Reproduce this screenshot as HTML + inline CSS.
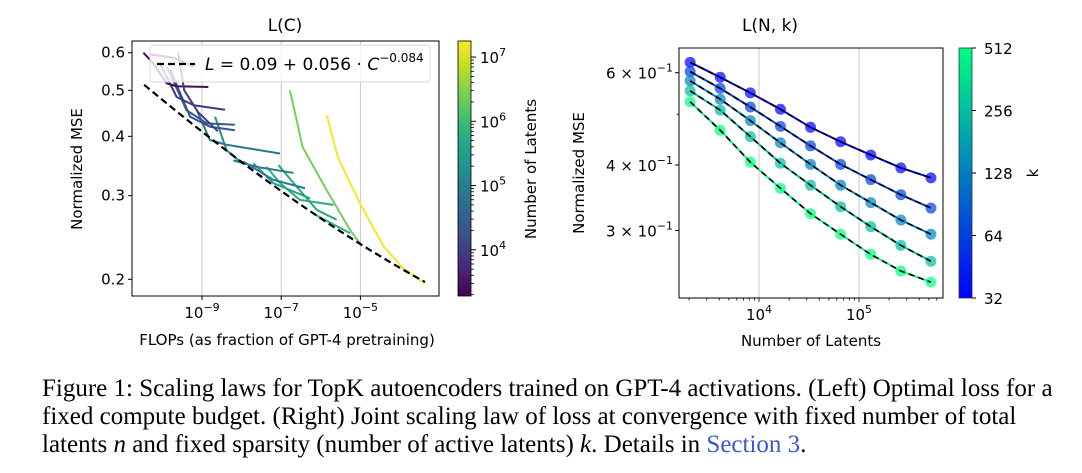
<!DOCTYPE html>
<html><head><meta charset="utf-8">
<style>
body{margin:0;background:#fff;width:1082px;height:473px;overflow:hidden}
svg text{font-family:"DejaVu Sans","Liberation Sans",sans-serif;fill:#000}
.cap{position:absolute;left:42px;top:375px;width:1045px;font-family:"Liberation Serif",serif;font-size:25px;line-height:28px;color:#000;white-space:nowrap}
</style></head><body>
<svg id="fig" width="1082" height="473" style="position:absolute;left:0;top:0"></svg>
<div class="cap">Figure 1: Scaling laws for TopK autoencoders trained on GPT-4 activations. (Left) Optimal loss for a<br>fixed compute budget. (Right) Joint scaling law of loss at convergence with fixed number of total<br>latents <i>n</i> and fixed sparsity (number of active latents) <i>k</i>. Details in <span style="color:#3a56d4">Section 3</span>.</div>
<script>
// ---- Left chart data: curves of [log10 C, loss], color by log10(latents)
const leftCurveLatents=[7.2,6.4,5.75,5.65,5.6,5.8,5.3,4.9,4.95,4.85,4.4,4.3,3.9,3.4,3.6,4.0];
const leftCurves=[
 [[-5.85,0.443],[-5.56,0.360],[-5.01,0.289],[-4.42,0.235],[-3.92,0.211],[-3.37,0.196]],
 [[-6.78,0.500],[-6.46,0.380],[-5.85,0.308],[-5.26,0.254],[-5.01,0.238]],
 [[-7.37,0.345],[-7.03,0.319],[-6.53,0.294],[-5.68,0.287]],
 [[-7.07,0.348],[-6.73,0.322],[-6.10,0.280],[-5.60,0.267]],
 [[-7.70,0.351],[-7.20,0.319],[-6.27,0.296]],
 [[-6.19,0.275],[-5.26,0.250]],
 [[-8.67,0.440],[-8.38,0.374],[-8.04,0.354]],
 [[-9.13,0.454],[-8.80,0.393],[-8.38,0.384],[-7.03,0.368]],
 [[-8.21,0.356],[-7.62,0.345],[-6.69,0.335]],
 [[-7.96,0.354],[-7.20,0.324],[-6.40,0.311]],
 [[-9.89,0.561],[-9.39,0.454],[-8.88,0.426],[-8.17,0.423]],
 [[-9.80,0.552],[-9.30,0.440],[-8.80,0.419],[-8.17,0.412]],
 [[-10.06,0.570],[-9.64,0.484],[-9.21,0.465],[-8.42,0.455]],
 [[-10.48,0.600],[-10.23,0.570],[-9.89,0.517],[-9.64,0.510],[-8.84,0.508]],
 [[-10.3,0.595],[-9.7,0.585],[-9.2,0.56]],
 [[-9.6,0.60],[-9.45,0.50],[-9.1,0.45],[-8.6,0.41]]
];
const leftFit=[0.09,0.056,0.084];
const leftFitRange=[-10.46,-3.37];
const leftYTicks=[0.6,0.5,0.4,0.3,0.2];
const leftXTicks=[-9,-7,-5];
const leftCbTicks=[7,6,5,4];
// ---- Right chart data
const rightN=[2048,4096,8192,16384,32768,65536,131072,262144,524288];
const rightK=[32,64,128,256,512];
const rightLoss=[
 [0.628,0.588,0.549,0.511,0.472,0.443,0.418,0.395,0.378],
 [0.603,0.560,0.516,0.474,0.435,0.401,0.375,0.351,0.331],
 [0.579,0.534,0.486,0.441,0.401,0.366,0.339,0.314,0.295],
 [0.554,0.509,0.453,0.403,0.366,0.333,0.305,0.281,0.262],
 [0.528,0.466,0.405,0.361,0.323,0.295,0.270,0.251,0.239]
];
const rightYTicks=[6,4,3];
const rightXTicks=[4,5];
const rightCbTicks=[512,256,128,64,32];

const NS="http://www.w3.org/2000/svg";
const svg=document.getElementById('fig');
function el(tag,attrs,parent){const e=document.createElementNS(NS,tag);for(const k in attrs)e.setAttribute(k,attrs[k]);(parent||svg).appendChild(e);return e;}
function txt(s,x,y,size,anchor,parent){const t=el('text',{x:x,y:y,'font-size':size,'text-anchor':anchor||'middle'},parent);t.textContent=s;return t;}
const VIR=[[68,1,84],[72,40,120],[62,74,137],[49,104,142],[38,130,142],[31,158,137],[53,183,121],[110,206,88],[181,222,43],[253,231,37]];
function viridis(t){t=Math.max(0,Math.min(1,t))*9;const i=Math.min(8,Math.floor(t)),f=t-i;const a=VIR[i],b=VIR[i+1];return 'rgb('+a.map((v,j)=>Math.round(v+(b[j]-v)*f)).join(',')+')';}
function winter(t){return 'rgb(0,'+Math.round(255*t)+','+Math.round(255*(1-0.5*t))+')';}

// ===== LEFT =====
const L={x0:132,x1:439,y0:41,y1:296};
const lx=v=>202+(v+9)*39.6;
const ly=v=>52.7+475*Math.log10(0.6/v);
const gL=el('g',{});
el('clipPath',{id:'cl'},gL);
el('rect',{x:L.x0,y:L.y0,width:L.x1-L.x0,height:L.y1-L.y0},gL.lastChild);
leftXTicks.forEach(v=>{
 const g=el('line',{x1:lx(v),x2:lx(v),y1:L.y0,y2:L.y1,stroke:'#c8c8c8','stroke-width':1},gL);
 
 
});
const pl=el('g',{'clip-path':'url(#cl)'},gL);
leftCurves.forEach((c,i)=>{
 const p=el('polyline',{points:c.map(q=>lx(q[0])+','+ly(q[1])).join(' '),fill:'none',stroke:viridis((leftCurveLatents[i]-3.28)/3.97),'stroke-width':2,'stroke-linejoin':'round'},pl);
 
 
});
let fp=[];for(let s=0;s<=60;s++){const c=leftFitRange[0]+(leftFitRange[1]-leftFitRange[0])*s/60;fp.push(lx(c)+','+ly(leftFit[0]+leftFit[1]*Math.pow(10,-leftFit[2]*c)));}
const fl=el('polyline',{points:fp.join(' '),fill:'none',stroke:'#000','stroke-width':2.2,'stroke-dasharray':'7,4'},pl);


// legend
const lg=el('g',{},gL);


el('rect',{x:150,y:45,width:280,height:37,rx:3,fill:'rgba(255,255,255,0.8)',stroke:'#d8d8d8'},lg);
el('line',{x1:157,x2:195,y1:64,y2:64,stroke:'#000','stroke-width':2.2,'stroke-dasharray':'7,4'},lg);
const lt=el('text',{x:205,y:70,'font-size':17},lg);
lt.innerHTML='<tspan font-style="italic">L</tspan> = 0.09 + 0.056 · <tspan font-style="italic">C</tspan><tspan dy="-8" font-size="12">−0.084</tspan>';
el('rect',{x:L.x0,y:L.y0,width:L.x1-L.x0,height:L.y1-L.y0,fill:'none',stroke:'#000','stroke-width':1},gL);
leftYTicks.forEach(v=>{el('line',{x1:L.x0-4,x2:L.x0,y1:ly(v),y2:ly(v),stroke:'#000'},gL);const t=txt(v.toFixed(1),L.x0-7,ly(v)+5,15,'end',gL);});
leftXTicks.forEach(v=>{el('line',{x1:lx(v),x2:lx(v),y1:L.y1,y2:L.y1+4,stroke:'#000'},gL);const t=el('text',{x:lx(v),y:318,'font-size':15,'text-anchor':'middle'},gL);t.innerHTML='10<tspan dy="-7" font-size="11">−'+(-v)+'</tspan>';});
const lt1=txt('L(C)',285,31,17,'middle',gL);
const lxl=txt('FLOPs (as fraction of GPT-4 pretraining)',287,345,15,'middle',gL);
const lyl=el('text',{x:0,y:0,'font-size':15,'text-anchor':'middle',transform:'translate(82,169) rotate(-90)'},gL);lyl.textContent='Normalized MSE';
// left colorbar
const cbL=el('g',{},gL);
const dL=el('linearGradient',{id:'gv',x1:0,y1:1,x2:0,y2:0},cbL);
for(let i=0;i<=9;i++)el('stop',{offset:i/9,'stop-color':viridis(i/9)},dL);
el('rect',{x:458,y:41,width:13,height:255,fill:'url(#gv)',stroke:'#000','stroke-width':0.8},cbL);
const cy=v=>296-(v-3.28)/3.97*255;
for(let d=3;d<=7;d++)for(let m=2;m<=9;m++){const y=cy(d+Math.log10(m));if(y>41&&y<296)el('line',{x1:471,x2:474,y1:y,y2:y,stroke:'#000','stroke-width':0.8},cbL);}
leftCbTicks.forEach(v=>{el('line',{x1:471,x2:476,y1:cy(v),y2:cy(v),stroke:'#000'},cbL);const t=el('text',{x:480,y:cy(v)+6,'font-size':15},cbL);t.innerHTML='10<tspan dy="-7" font-size="11">'+v+'</tspan>';});
const cbl=el('text',{x:0,y:0,'font-size':15,'text-anchor':'middle',transform:'translate(536,169) rotate(-90)'},cbL);cbl.textContent='Number of Latents';

// ===== RIGHT =====
const R={x0:679,x1:943,y0:48,y1:298};
const rx=v=>759+(Math.log10(v)-4)*100;
const ry=v=>72.7+524*Math.log10(0.6/v);
const gR=el('g',{});
rightXTicks.forEach(v=>{el('line',{x1:rx(Math.pow(10,v)),x2:rx(Math.pow(10,v)),y1:R.y0,y2:R.y1,stroke:'#c8c8c8'},gR);});
rightK.forEach((k,i)=>{
 const col=winter(i/4);
 const ln=el('polyline',{points:rightN.map((n,j)=>rx(n)+','+ry(rightLoss[i][j])).join(' '),fill:'none',stroke:col,'stroke-width':2},gR);
 
 
 rightN.forEach((n,j)=>{const c=el('circle',{cx:rx(n),cy:ry(rightLoss[i][j]),r:5.5,fill:col,'fill-opacity':0.7},gR);
  
  });
 const fit=el('polyline',{points:rightN.map((n,j)=>rx(n)+','+ry(rightLoss[i][j])).join(' '),fill:'none',stroke:'#000','stroke-width':1.6,'stroke-dasharray':'6,4'},gR);
 
 
});
el('rect',{x:R.x0,y:R.y0,width:R.x1-R.x0,height:R.y1-R.y0,fill:'none',stroke:'#000'},gR);
for(let d=3;d<=5;d++)for(let m=1;m<=9;m++){const n=m*Math.pow(10,d);const x=rx(n);if(x>R.x0&&x<R.x1)el('line',{x1:x,x2:x,y1:R.y1,y2:R.y1+(m==1?4:2.5),stroke:'#000','stroke-width':0.8},gR);}
el('line',{x1:R.x0-2.5,x2:R.x0,y1:ry(0.5),y2:ry(0.5),stroke:'#000','stroke-width':0.8},gR);
rightYTicks.forEach(v=>{const y=ry(v/10);el('line',{x1:R.x0-4,x2:R.x0,y1:y,y2:y,stroke:'#000'},gR);const t=el('text',{x:R.x0-6,y:y+6,'font-size':15,'text-anchor':'end'},gR);t.innerHTML=v+' × 10<tspan dy="-7" font-size="11">−1</tspan>';});
rightXTicks.forEach(v=>{const t=el('text',{x:rx(Math.pow(10,v)),y:320,'font-size':15,'text-anchor':'middle'},gR);t.innerHTML='10<tspan dy="-7" font-size="11">'+v+'</tspan>';});
const rt=txt('L(N, k)',770,31,17,'middle',gR);
const rxl=txt('Number of Latents',811,346,15,'middle',gR);
const ryl=el('text',{x:0,y:0,'font-size':15,'text-anchor':'middle',transform:'translate(584,173) rotate(-90)'},gR);ryl.textContent='Normalized MSE';
const cbR=el('g',{},gR);
const dR=el('linearGradient',{id:'gw',x1:0,y1:1,x2:0,y2:0},cbR);
el('stop',{offset:0,'stop-color':winter(0)},dR);el('stop',{offset:1,'stop-color':winter(1)},dR);
el('rect',{x:959,y:48,width:13,height:250,fill:'url(#gw)',stroke:'#333','stroke-width':0.8},cbR);
const ky=v=>298-(Math.log2(v)-5)/4*250;
rightCbTicks.forEach(v=>{el('line',{x1:972,x2:976,y1:ky(v),y2:ky(v),stroke:'#000'},cbR);txt(String(v),984,ky(v)+6,15,'start',cbR);});
const kl=el('text',{x:0,y:0,'font-size':15,'text-anchor':'middle',transform:'translate(1038,173) rotate(-90)'},cbR);kl.textContent='k';
</script>
</body></html>
